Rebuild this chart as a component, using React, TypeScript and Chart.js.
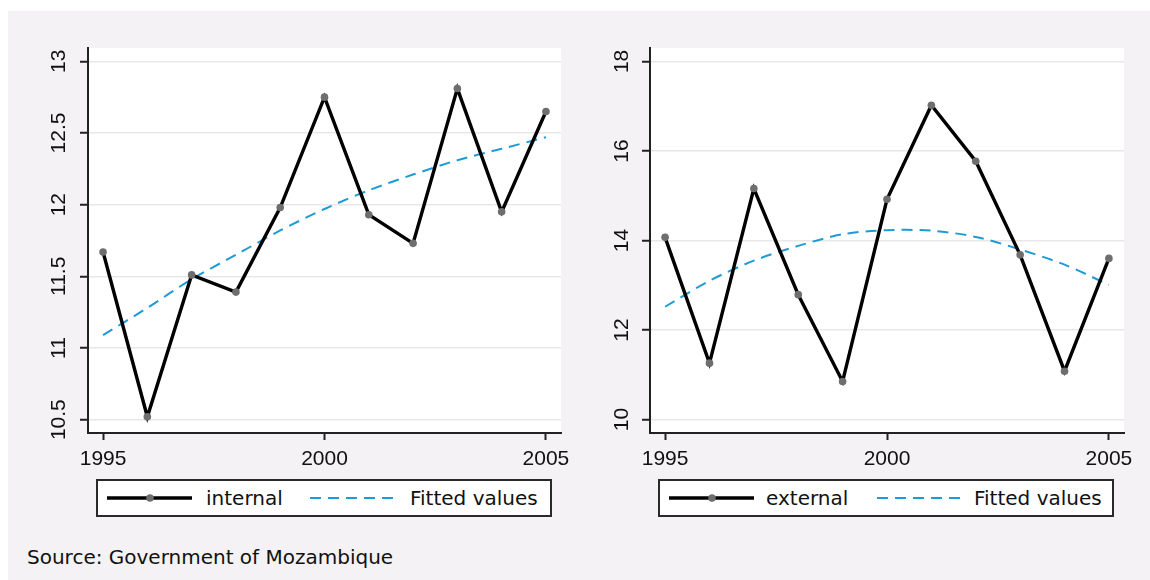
import React, { useEffect, useRef } from "react";
import { Chart, registerables } from "chart.js";

Chart.register(...registerables);

// Years on the horizontal axis
const years = [1995, 1996, 1997, 1998, 1999, 2000, 2001, 2002, 2003, 2004, 2005];

// Internal series and its fitted curve
const internal = [11.67, 10.52, 11.51, 11.39, 11.98, 12.75, 11.93, 11.73, 12.81, 11.95, 12.65];
const internalFit = [11.09, 11.28, 11.48, 11.65, 11.82, 11.97, 12.10, 12.21, 12.31, 12.39, 12.47];

// External series and its fitted curve
const external = [14.07, 11.26, 15.16, 12.79, 10.85, 14.92, 17.02, 15.77, 13.68, 11.08, 13.60];
const externalFit = [12.52, 13.10, 13.55, 13.88, 14.14, 14.23, 14.22, 14.08, 13.80, 13.46, 13.01];

// Tick labels
const xTicks = [1995, 2000, 2005];
const internalTicks = [10.5, 11, 11.5, 12, 12.5, 13];
const externalTicks = [10, 12, 14, 16, 18];

const BLUE = "#1e9bd7";
const PANEL_BG = "#f5f2f5";
const TICK_FONT = { family: "'Liberation Sans', Arial, sans-serif", size: 21 };
const LEGEND_FONT = "'DejaVu Sans', sans-serif";

const plotBackground = {
  id: "plotBackground",
  beforeDraw(chart: any) {
    const { ctx, chartArea } = chart;
    ctx.save();
    ctx.fillStyle = "#ffffff";
    ctx.fillRect(chartArea.left, chartArea.top, chartArea.right - chartArea.left, chartArea.bottom - chartArea.top);
    ctx.restore();
  },
};

type PanelProps = {
  values: number[];
  fitted: number[];
  yTicks: number[];
  yMin: number;
  yMax: number;
  left: number;
  width: number;
  yWidth: number;
  padRight: number;
  labelPad: number;
};

function TrendPanel(props: PanelProps) {
  const ref = useRef<HTMLCanvasElement | null>(null);

  useEffect(() => {
    if (!ref.current) return;
    const toPoints = (arr: number[]) => arr.map((v, i) => ({ x: years[i], y: v }));
    const chart = new Chart(ref.current, {
      type: "line",
      data: {
        datasets: [
          {
            data: toPoints(props.values),
            borderColor: "#000000",
            borderWidth: 3.4,
            pointRadius: 3.8,
            pointBackgroundColor: "#6e6e6e",
            pointBorderWidth: 0,
            tension: 0,
          },
          {
            data: toPoints(props.fitted),
            borderColor: BLUE,
            borderWidth: 2,
            borderDash: [11, 7],
            pointRadius: 0,
            tension: 0.3,
          },
        ],
      },
      options: {
        animation: false,
        responsive: false,
        maintainAspectRatio: false,
        devicePixelRatio: 1,
        layout: { padding: { left: 0, right: props.padRight, top: 28, bottom: 0 } },
        plugins: { legend: { display: false }, tooltip: { enabled: false } },
        scales: {
          x: {
            type: "linear",
            min: 1994.66,
            max: 2005.34,
            afterBuildTicks: (scale: any) => {
              scale.ticks = xTicks.map((v) => ({ value: v }));
            },
            afterFit: (scale: any) => {
              scale.height = 37;
            },
            ticks: {
              autoSkip: false,
              maxRotation: 0,
              font: TICK_FONT,
              color: "#111111",
              padding: 7,
              callback: (v: any) => String(v),
            },
            grid: {
              drawOnChartArea: false,
              drawTicks: true,
              tickLength: 7,
              tickColor: "#222222",
              tickWidth: 2,
            },
            border: { display: true, color: "#222222", width: 2 },
          },
          y: {
            type: "linear",
            min: props.yMin,
            max: props.yMax,
            afterBuildTicks: (scale: any) => {
              scale.ticks = props.yTicks.map((v) => ({ value: v }));
            },
            afterFit: (scale: any) => {
              scale.width = props.yWidth;
            },
            ticks: {
              autoSkip: false,
              minRotation: 90,
              maxRotation: 90,
              crossAlign: "center",
              font: TICK_FONT,
              color: "#111111",
              padding: props.labelPad,
              callback: (v: any) => String(v),
            },
            grid: {
              color: "#e8e8e8",
              lineWidth: 1.5,
              drawTicks: true,
              tickLength: 8,
              tickColor: "#222222",
              tickWidth: 2,
            },
            border: { display: true, color: "#222222", width: 2 },
          },
        },
      },
      plugins: [plotBackground],
    } as any);
    return () => chart.destroy();
  }, []);

  return (
    <canvas
      ref={ref}
      width={props.width}
      height={450}
      style={{ position: "absolute", left: props.left, top: 20, width: props.width, height: 450 }}
    />
  );
}

function LegendBox(props: { left: number; name: string; solidText: number; dashStart: number; fitText: number }) {
  const textStyle: React.CSSProperties = {
    position: "absolute",
    top: 0,
    height: 34,
    lineHeight: "34px",
    fontFamily: LEGEND_FONT,
    fontSize: 20,
    color: "#111",
    whiteSpace: "nowrap",
  };
  return (
    <div
      style={{
        position: "absolute",
        left: props.left,
        top: 479,
        width: 456,
        height: 38,
        boxSizing: "border-box",
        border: "2px solid #2a2a2a",
        background: "#ffffff",
      }}
    >
      <svg width={452} height={34} style={{ position: "absolute", left: 0, top: 0 }}>
        <line x1={9} y1={17} x2={94} y2={17} stroke="#000" strokeWidth={3.4} />
        <circle cx={52} cy={17} r={3.8} fill="#6e6e6e" />
        <line
          x1={props.dashStart}
          y1={17}
          x2={props.dashStart + 86}
          y2={17}
          stroke={BLUE}
          strokeWidth={2}
          strokeDasharray="11 7"
        />
      </svg>
      <div style={{ ...textStyle, left: props.solidText }}>{props.name}</div>
      <div style={{ ...textStyle, left: props.fitText }}>Fitted values</div>
    </div>
  );
}

export default function App() {
  return (
    <div style={{ position: "fixed", left: 0, top: 0, width: 1150, height: 580, background: "#ffffff", overflow: "hidden" }}>
      <div style={{ position: "absolute", left: 8, top: 11, width: 1142, height: 569, background: PANEL_BG }} />
      <TrendPanel
        values={internal}
        fitted={internalFit}
        yTicks={internalTicks}
        yMin={10.407}
        yMax={13.093}
        left={10}
        width={570}
        yWidth={78}
        padRight={19}
        labelPad={0}
      />
      <TrendPanel
        values={external}
        fitted={externalFit}
        yTicks={externalTicks}
        yMin={9.7}
        yMax={18.3}
        left={590}
        width={560}
        yWidth={60}
        padRight={26}
        labelPad={8}
      />
      <LegendBox left={96} name="internal" solidText={108} dashStart={212} fitText={312} />
      <LegendBox left={658} name="external" solidText={106} dashStart={217} fitText={314} />
      <div
        style={{
          position: "absolute",
          left: 27,
          top: 545,
          height: 24,
          lineHeight: "24px",
          fontFamily: LEGEND_FONT,
          fontSize: 20,
          color: "#111",
          whiteSpace: "nowrap",
        }}
      >
        Source: Government of Mozambique
      </div>
    </div>
  );
}
